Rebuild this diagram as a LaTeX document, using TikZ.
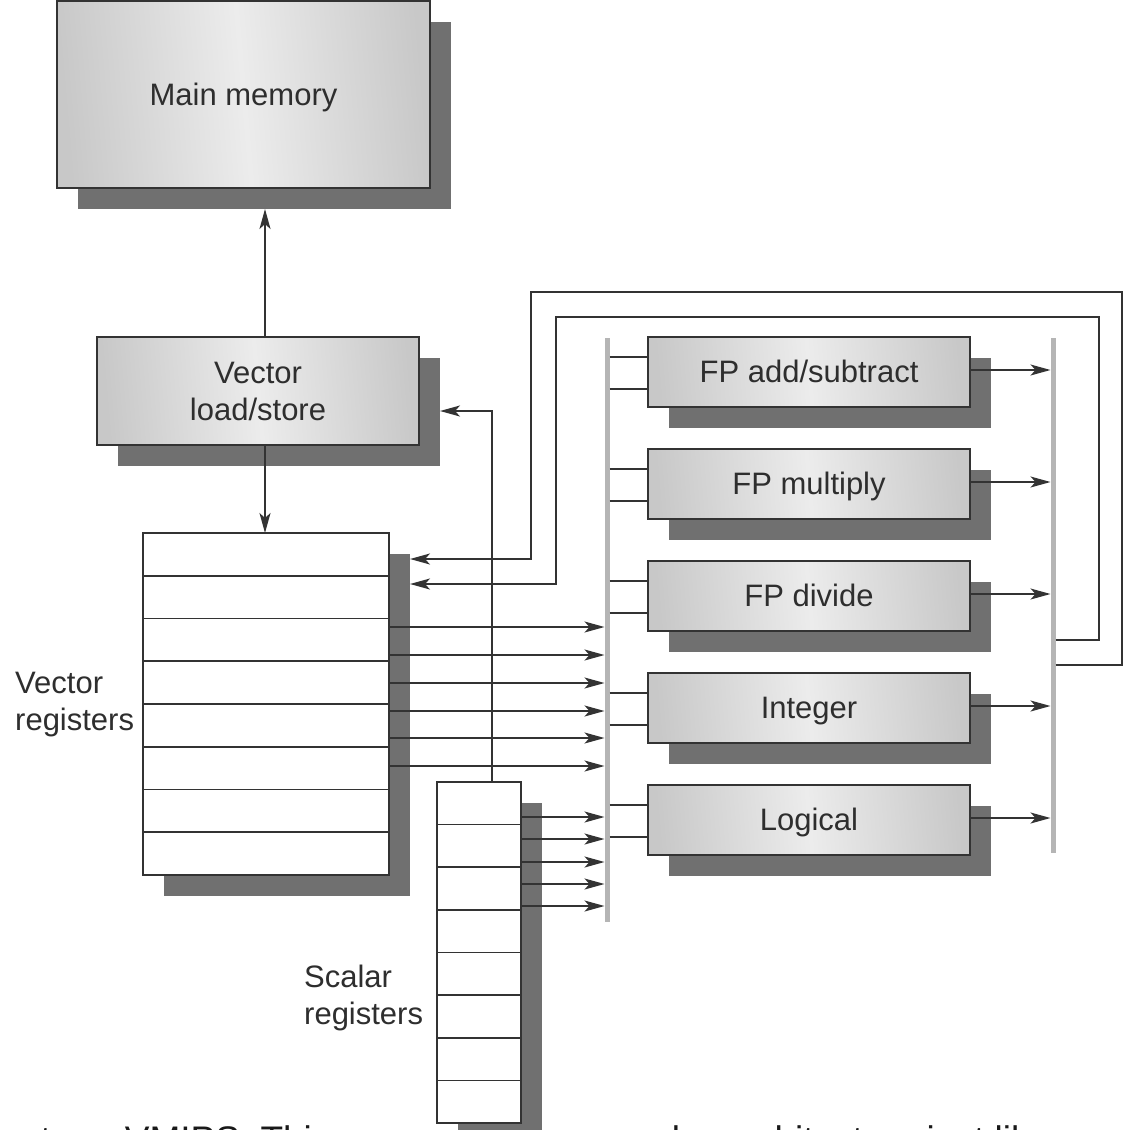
\documentclass[tikz,border=0pt]{standalone}
\usepackage{fontspec}
\setmainfont{Liberation Sans}
\usetikzlibrary{arrows.meta,shadows,calc}
\definecolor{linec}{HTML}{333333}
\definecolor{shadowc}{HTML}{707070}
\definecolor{boxdark}{HTML}{C8C8C8}
\definecolor{boxlight}{HTML}{ECECEC}
\definecolor{busc}{HTML}{B5B5B5}
\definecolor{textc}{HTML}{2E2E2E}
\begin{document}
\begin{tikzpicture}[x=1pt,y=-1pt,
  shd/.style={drop shadow={opacity=1,fill=shadowc,shadow xshift=21pt,shadow yshift=-21pt}},
  gbox/.style={shd,draw=linec,line width=1.8pt,left color=boxdark,right color=boxdark,middle color=boxlight,shading angle=95,inner sep=0pt,outer sep=0pt},
  regbox/.style={shd,draw=linec,line width=1.8pt,fill=white,inner sep=0pt,outer sep=0pt},
  busn/.style={fill=busc,draw=none,minimum width=5pt,inner sep=0pt,outer sep=0pt},
  ln/.style={draw=linec,line width=1.7pt},
  arr/.style={draw=linec,line width=1.7pt,-{Stealth[length=20pt,width=11pt,inset=5pt]}},
  lab/.style={font=\fontsize{31}{37}\selectfont,text=textc,inner sep=0pt},
  capf/.style={font=\fontsize{37}{44}\selectfont,text=black!90,inner sep=0pt}]
\useasboundingbox (0,0) rectangle (1124,1130);
\clip (0,0) rectangle (1124,1130);
\fill[white] (0,0) rectangle (1124,1130);

% caption (only the tops of its letters show at the bottom)
\node[capf,anchor=base west] (cap) at (-9,1152) {tecture, VMIPS. This processor has a scalar architecture just like};

% main memory and load/store
\node[gbox,minimum width=373pt,minimum height=187pt] (mm) at (243.5,94.5) {};
\node[lab,anchor=base] (mmt) at (243.5,105) {Main memory};
\node[gbox,minimum width=322pt,minimum height=108pt] (ls) at (258,391) {};
\node[lab,anchor=base] (lst1) at (258,383) {Vector};
\node[lab,anchor=base] (lst2) at (258,420) {load/store};

% register files
\node[regbox,minimum width=246pt,minimum height=342pt] (vr) at (266,704) {};
\foreach \i in {1,...,7}
  \draw[ln] ($(vr.north west)+(0,{\i*42.75})$) -- ($(vr.north east)+(0,{\i*42.75})$);
\node[regbox,minimum width=84pt,minimum height=341pt] (sr) at (479,952.5) {};
\foreach \i in {1,...,7}
  \draw[ln] ($(sr.north west)+(0,{\i*42.62})$) -- ($(sr.north east)+(0,{\i*42.62})$);
\node[lab,anchor=base west] (vrl1) at (15,693) {Vector};
\node[lab,anchor=base west] (vrl2) at (15,730) {registers};
\node[lab,anchor=base west] (srl1) at (304,987) {Scalar};
\node[lab,anchor=base west] (srl2) at (304,1024) {registers};

% buses
\node[busn,minimum height=584pt] (lbus) at (607,630) {};
\node[busn,minimum height=515pt] (rbus) at (1053,595.5) {};

% functional units
\node[gbox,minimum width=322pt,minimum height=70pt] (fpa) at (809,372) {};
\node[gbox,minimum width=322pt,minimum height=70pt] (fpm) at (809,484) {};
\node[gbox,minimum width=322pt,minimum height=70pt] (fpd) at (809,596) {};
\node[gbox,minimum width=322pt,minimum height=70pt] (fpi) at (809,708) {};
\node[gbox,minimum width=322pt,minimum height=70pt] (fpl) at (809,820) {};
\node[lab,anchor=base] (fpat) at (809,382) {FP add/subtract};
\node[lab,anchor=base] (fpmt) at (809,494) {FP multiply};
\node[lab,anchor=base] (fpdt) at (809,606) {FP divide};
\node[lab,anchor=base] (fpit) at (809,718) {Integer};
\node[lab,anchor=base] (fplt) at (809,830) {Logical};

\foreach \n/\tp [evaluate=\tp as \ya using \tp+20, evaluate=\tp as \yb using \tp+52, evaluate=\tp as \yo using \tp+33]
   in {fpa/337,fpm/449,fpd/561,fpi/673,fpl/785} {
  \draw[ln] (lbus.east |- 0,\ya) -- (\n.west |- 0,\ya);
  \draw[ln] (lbus.east |- 0,\yb) -- (\n.west |- 0,\yb);
  \draw[arr] (\n.east |- 0,\yo) -- (rbus.west |- 0,\yo);
}

% vector and scalar register outputs
\foreach \y in {627,655,683,711,738,766}
  \draw[arr] (vr.east |- 0,\y) -- (lbus.west |- 0,\y);
\foreach \y in {817,839,862,884,906}
  \draw[arr] (sr.east |- 0,\y) -- (lbus.west |- 0,\y);

% memory paths
\coordinate (mmin) at (265,209);
\draw[arr] (ls.north -| mmin) -- (mmin);
\draw[arr] (ls.south -| mmin) -- (vr.north -| mmin);
\coordinate (lsin) at (440,411);
\draw[arr] (sr.north -| 492,0) |- (lsin);

% feedback from result bus to vector registers
\coordinate (fb1) at (410,559);
\coordinate (fb2) at (410,584);
\draw[arr] (rbus.east |- 0,665) -| (1122,292) -| (531,559) -- (fb1);
\draw[arr] (rbus.east |- 0,640) -| (1099,317) -| (556,584) -- (fb2);
\end{tikzpicture}
\end{document}
